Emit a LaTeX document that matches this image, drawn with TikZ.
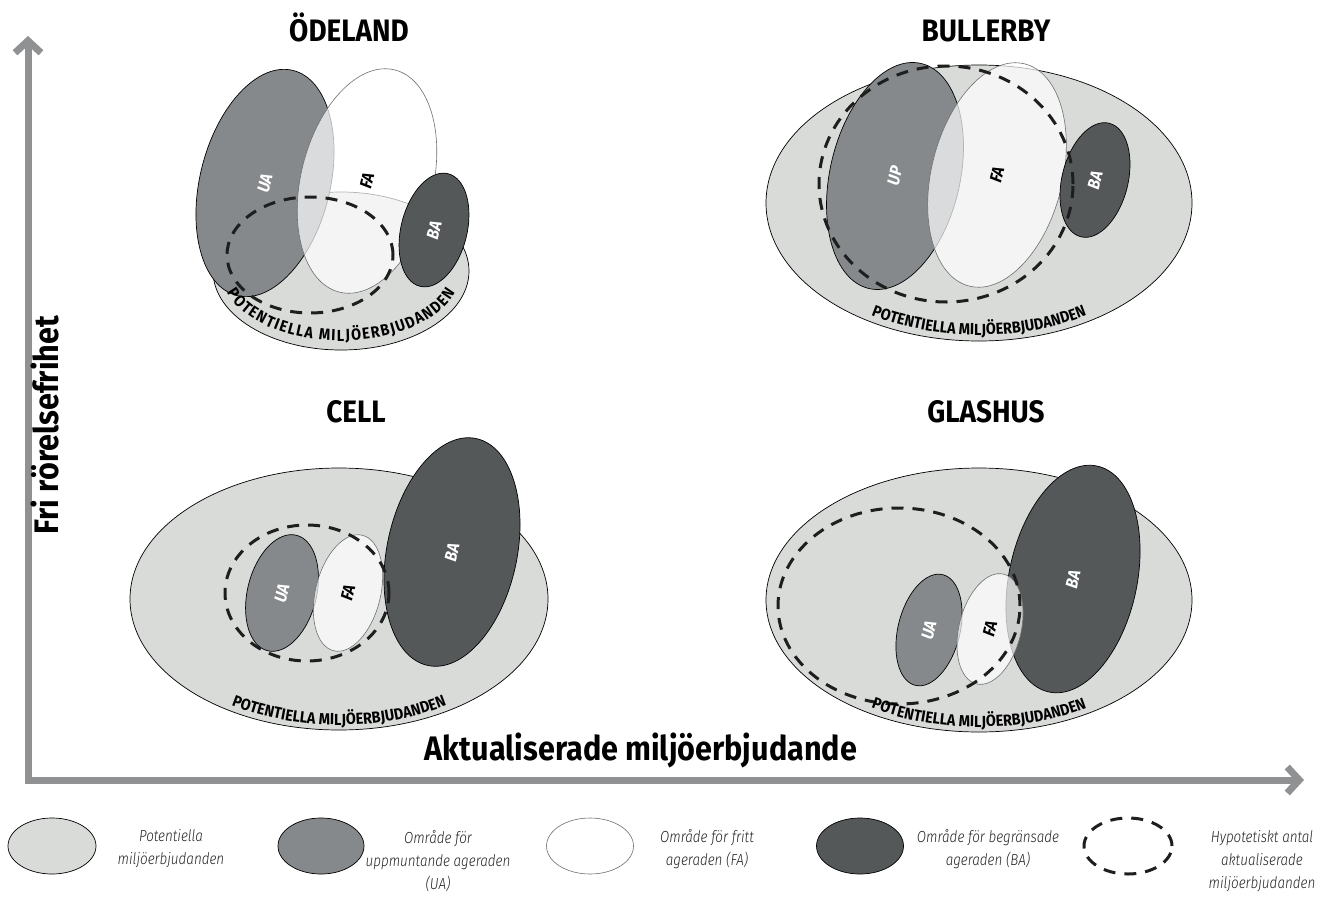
\documentclass[tikz,border=0pt]{standalone}
\usepackage{fontspec}
\setmainfont{Fira Sans}
\newfontfamily\condfont[FakeStretch=0.9]{Fira Sans}
\newfontfamily\legendfont[FakeStretch=0.84]{Fira Sans Light}
\usepackage{tikz}
\usetikzlibrary{shapes.geometric, arrows.meta, decorations.text}
\definecolor{MBPot}{RGB}{217, 219, 217}
\definecolor{MBUA}{RGB}{134, 137, 139}
\definecolor{MBBA}{RGB}{85, 88, 89}
\definecolor{MBLine}{RGB}{110, 111, 113}
\definecolor{MBDash}{RGB}{30, 30, 30}
\definecolor{MBAxis}{RGB}{143, 145, 146}
\definecolor{MBText}{RGB}{35, 35, 35}
\newcommand{\labelfont}{\condfont\bfseries\itshape\fontsize{17}{19}\selectfont}
\newcommand{\potfont}{\condfont\bfseries\fontsize{16}{18}\selectfont}

\begin{document}
\begin{tikzpicture}[x=1pt,y=-1pt,
  pot/.style={ellipse, draw=black, line width=0.7pt, fill=MBPot, inner sep=0pt},
  ua/.style={ellipse, draw=black, line width=0.7pt, fill=MBUA, inner sep=0pt, text=white, font=\labelfont},
  fa/.style={ellipse, draw=MBLine, line width=0.6pt, fill=white, fill opacity=0.7, text opacity=1, inner sep=0pt, font=\labelfont},
  ba/.style={ellipse, draw=black, line width=0.7pt, fill=MBBA, inner sep=0pt, text=white, font=\labelfont},
  hyp/.style={ellipse, draw=MBDash, line width=3pt, dash pattern=on 12pt off 9pt, inner sep=0pt},
  title/.style={font=\condfont\bfseries\fontsize{31}{34}\selectfont},
  axislabel/.style={font=\condfont\bfseries\fontsize{34}{36}\selectfont},
  leg/.style={font=\legendfont\itshape\fontsize{16}{23}\selectfont, align=center, text=MBText},
  potlabel/.style={decorate, decoration={text along path, text align=center,
    text={|\potfont|POTENTIELLA MILJÖERBJUDANDEN}}},
  potfit/.style={decorate, decoration={text along path, text align={fit to path},
    text={|\potfont|POTENTIELLA MILJÖERBJUDANDEN}}},
  axis/.style={draw=MBAxis, line width=7pt, line join=miter,
    {Straight Barb[length=12pt, width=26pt]}-{Straight Barb[length=12pt, width=26pt]}}]
  \path[use as bounding box] (0,0) rectangle (1317,899);
  \fill[white] (0,0) rectangle (1317,899);

  % axes
  \coordinate (origin) at (28,780);
  \coordinate (ytip) at (28,36);
  \coordinate (xtip) at (1304,780);
  \draw[axis] (ytip) -- (origin) -- (xtip);
  \node[axislabel, rotate=90] (ylab) at (45,425) {Fri rörelsefrihet};
  \node[axislabel, anchor=base] (xlab) at (641,760) {Aktualiserade miljöerbjudande};

  % titles
  \node[title, anchor=base] (t-od) at (349,42) {ÖDELAND};
  \node[title, anchor=base] (t-bu) at (986,42) {BULLERBY};
  \node[title, anchor=base] (t-ce) at (356,422) {CELL};
  \node[title, anchor=base] (t-gl) at (986,422) {GLASHUS};

  % ÖDELAND
  \node[pot, minimum width=256pt, minimum height=158pt] (od-pot) at (341,271) {};
  \node[ua, rotate=-14, minimum width=130pt, minimum height=232pt] (od-ua) at (265,183) {\rotatebox{90}{UA}};
  \node[fa, rotate=-14, minimum width=132pt, minimum height=229pt] (od-fa) at (367,181) {\rotatebox{90}{FA}};
  \node[ba, rotate=-14, minimum width=66pt, minimum height=116pt] (od-ba) at (434,230) {\rotatebox{90}{BA}};
  \node[hyp, minimum width=166pt, minimum height=116pt] (od-hyp) at (310,255) {};
  \path[potfit] (341,271) ++(162:120 and 70) arc[start angle=162, end angle=18, x radius=120, y radius=70];

  % BULLERBY
  \node[pot, minimum width=426pt, minimum height=276pt] (bu-pot) at (979,203) {};
  \node[ua, rotate=-13, minimum width=130pt, minimum height=231pt] (bu-up) at (895,176) {\rotatebox{90}{UP}};
  \node[fa, rotate=-14, minimum width=131pt, minimum height=229pt] (bu-fa) at (997,175) {\rotatebox{90}{FA}};
  \node[ba, rotate=-14, minimum width=66pt, minimum height=117pt] (bu-ba) at (1095,180) {\rotatebox{90}{BA}};
  \node[hyp, minimum width=254pt, minimum height=236pt] (bu-hyp) at (946,184) {};
  \path[potlabel] (979,203) ++(150:205 and 132) arc[start angle=150, end angle=30, x radius=205, y radius=132];

  % CELL
  \node[pot, minimum width=418pt, minimum height=262pt] (ce-pot) at (339,599) {};
  \node[ua, rotate=-14, minimum width=69pt, minimum height=119pt] (ce-ua) at (282,593) {\rotatebox{90}{UA}};
  \node[fa, rotate=-14, minimum width=65pt, minimum height=119pt] (ce-fa) at (348,593) {\rotatebox{90}{FA}};
  \node[ba, rotate=-12, minimum width=130pt, minimum height=232pt] (ce-ba) at (452,552) {\rotatebox{90}{BA}};
  \node[hyp, minimum width=164pt, minimum height=136pt] (ce-hyp) at (307,593) {};
  \path[potlabel] (339,599) ++(150:200 and 126) arc[start angle=150, end angle=30, x radius=200, y radius=126];

  % GLASHUS
  \node[pot, minimum width=426pt, minimum height=264pt] (gl-pot) at (979,600) {};
  \node[ua, rotate=-14, minimum width=62pt, minimum height=114pt] (gl-ua) at (929,630) {\rotatebox{90}{UA}};
  \node[ba, rotate=-12, minimum width=128pt, minimum height=231pt] (gl-ba) at (1073,579) {\rotatebox{90}{BA}};
  \node[fa, rotate=-14, minimum width=62pt, minimum height=113pt] (gl-fa) at (990,629) {\rotatebox{90}{FA}};
  \node[hyp, minimum width=242pt, minimum height=196pt] (gl-hyp) at (899,606) {};
  \path[potlabel] (979,600) ++(150:204 and 127) arc[start angle=150, end angle=30, x radius=204, y radius=127];

  % legend
  \node[pot, minimum width=88pt, minimum height=56pt] (lg-pot) at (52,846) {};
  \node[leg] (lg-pot-txt) at (171,849) {Potentiella\\miljöerbjudanden};
  \node[ua, minimum width=86pt, minimum height=56pt] (lg-ua) at (321,846) {};
  \node[leg] (lg-ua-txt) at (438,861) {Område för\\uppmuntande ageraden\\(UA)};
  \node[fa, fill opacity=1, minimum width=87pt, minimum height=56pt] (lg-fa) at (590,846) {};
  \node[leg] (lg-fa-txt) at (707,849) {Område för fritt\\ageraden (FA)};
  \node[ba, minimum width=87pt, minimum height=56pt] (lg-ba) at (860,846) {};
  \node[leg] (lg-ba-txt) at (988,849) {Område för begränsade\\ageraden (BA)};
  \node[hyp, minimum width=88pt, minimum height=56pt] (lg-hyp) at (1128,846) {};
  \node[leg] (lg-hyp-txt) at (1262,861) {Hypotetiskt antal\\aktualiserade\\miljöerbjudanden};
\end{tikzpicture}
\end{document}
